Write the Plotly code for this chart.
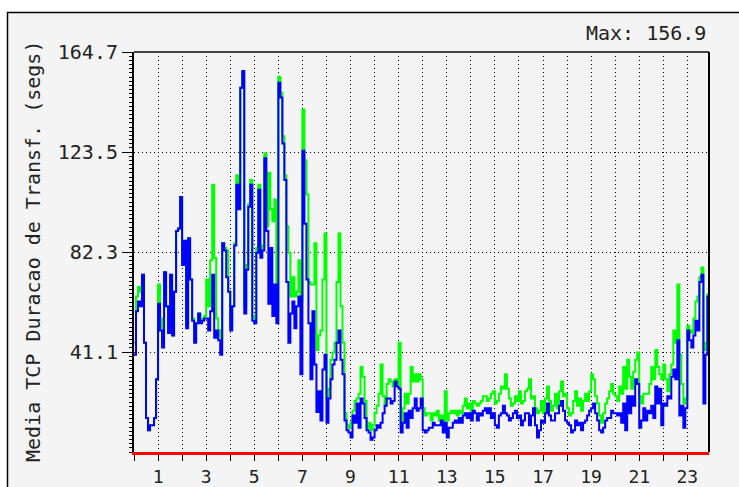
import plotly.graph_objects as go

# 5-minute samples over 24 hours (288 per series)
blue_vals = [
    # 00h-04h
    40, 58, 62, 60, 73, 45, 14, 9, 11, 11, 14, 30,
    61, 50, 43, 74, 60, 49, 73, 48, 66, 91, 92, 105,
    77, 87, 51, 88, 71, 54, 45, 53, 57, 53, 54, 55,
    55, 50, 58, 73, 47, 50, 46, 40, 86, 83, 72, 66,
    # 04h-08h
    50, 60, 85, 110, 100, 150, 156.9, 57, 75, 101, 110, 54,
    53, 82, 108, 80, 83, 121, 91, 61, 84, 56, 69, 53,
    152, 146, 127, 112, 70, 45, 57, 62, 51, 60, 64, 32,
    124, 94, 71, 53, 30, 58, 36, 16.5, 25, 13, 34, 40,
    # 08h-12h
    12, 22, 30, 36, 38, 45, 50, 38, 32, 13, 9, 8,
    6, 15, 12, 20, 10, 22, 20, 14, 9, 8, 5, 6,
    9, 11, 10, 12, 16, 19, 22, 22, 20, 21, 29, 27,
    26, 8, 12, 16, 10, 17, 14, 18, 22, 17, 18, 22,
    # 12h-16h
    9, 8, 9, 10, 10, 12, 11, 11, 11, 13, 8, 12,
    6, 10, 10, 12, 13, 12, 14, 12, 15, 16, 14, 16,
    13, 17, 16, 13, 16, 15, 17, 18, 16, 18, 14, 16,
    11, 10, 15, 16, 19, 16, 15, 13, 14, 16, 17, 14,
    # 16h-20h
    15, 11, 13, 16, 16, 11, 15, 18, 11, 6, 9, 13,
    12, 16, 20, 15, 13, 13, 16, 16, 19, 21, 17, 13,
    12, 11, 8, 9, 13, 11, 12, 9, 12, 13, 15, 17,
    18, 20, 16, 13, 9, 8, 10, 13, 14, 14, 17, 16,
    # 20h-24h
    16, 15, 16, 12, 20, 9, 23, 16, 23, 19, 30, 28,
    10, 13, 18, 13, 17, 16, 19, 14, 27, 20, 26, 11,
    20, 19, 23, 22, 31, 34, 30, 46, 15, 19, 10, 18,
    50, 46, 43, 48, 54, 50, 70, 73, 20, 40, 64, 63,
]
green_vals = [
    # 00h-04h
    45, 64, 68, 66, 73, 45, 14, 9, 11, 11, 14, 30,
    69, 55, 45, 74, 60, 50, 73, 48, 66, 91, 92, 105,
    77, 87, 52, 88, 71, 55, 46, 53, 57, 54, 55, 56,
    71, 60, 79, 110, 80, 55, 50, 47, 86, 84, 83, 66,
    # 04h-08h
    52, 60, 86, 114, 102, 150, 156, 60, 77, 102, 112, 56,
    55, 84, 110, 82, 85, 123, 93, 115, 100, 95, 104, 58,
    154.5, 148, 130, 114, 93, 82, 64, 72, 64, 66, 79, 62,
    141, 120, 106, 70, 69, 69, 86, 42, 48, 50, 71, 90,
    # 08h-12h
    22, 26, 38, 41, 45, 70, 90, 60, 45, 16, 11, 10,
    12, 17, 21, 22, 24, 35, 31, 21, 10, 12, 9, 11,
    16, 19, 24, 36, 23, 19, 28, 30, 29, 27, 30, 28,
    45, 11, 18, 24, 20, 24, 35, 29, 32, 29, 32, 30,
    # 12h-16h
    18, 15, 16, 16, 13, 16, 15, 17, 13, 15, 11, 25,
    13, 16, 17, 16, 17, 15, 17, 16, 19, 22, 18, 20,
    16, 21, 20, 19, 20, 21, 23, 23, 21, 22, 24, 25,
    20, 21, 24, 27, 26, 32, 26, 22, 19, 20, 23, 21,
    # 16h-20h
    25, 20, 21, 25, 26, 30, 22, 23, 18, 16, 17, 21,
    16, 22, 27, 21, 17, 19, 24, 18, 25, 29, 23, 24,
    18, 15, 16, 21, 25, 19, 22, 17, 21, 24, 21, 25,
    32, 30, 23, 20, 15, 12, 16, 20, 22, 25, 28, 24,
    # 20h-24h
    23, 21, 27, 24, 35, 26, 38, 31, 26, 33, 38, 41,
    23, 20, 24, 24, 24, 28, 35, 30, 42, 35, 32, 30,
    36, 30, 25, 32, 36, 50, 45, 69, 40, 28, 20, 22,
    52, 50, 49, 55, 62, 64, 72, 76, 42, 45, 65, 64,
]
hours = [i / 12 for i in range(len(blue_vals))]

y_tick_vals = [41.175, 82.35, 123.525, 164.7]
y_tick_text = ["41.1", "82.3", "123.5", "164.7"]
x_tick_vals = list(range(0, 24))
x_tick_text = [str(h) if h % 2 == 1 else "" for h in x_tick_vals]
y_title = "Media TCP Duracao de Transf. (segs)"
max_label = "Max: 156.9"

MONO = "DejaVu Sans Mono"
BG = "#f4f4f4"
TXT = "#222"

fig = go.Figure()
fig.add_trace(go.Scatter(x=hours + [24], y=green_vals + [green_vals[-1]], mode="lines",
                         line=dict(color="#00ff00", width=2, shape="hv"), hoverinfo="skip"))
fig.add_trace(go.Scatter(x=hours + [24], y=blue_vals + [blue_vals[-1]], mode="lines",
                         line=dict(color="#0000ff", width=2, shape="hv"), hoverinfo="skip"))

L, R, T, B = 134, 30, 52, 35
W, H = 739, 487
pw, ph = W - L - R, H - T - B

fig.update_layout(
    width=W, height=H,
    margin=dict(l=L, r=R, t=T, b=B, pad=0, autoexpand=False),
    paper_bgcolor="white", plot_bgcolor=BG,
    showlegend=False,
    font=dict(family=MONO, size=20, color=TXT),
    xaxis=dict(range=[0, 23.9], tickmode="array", tickvals=x_tick_vals, ticktext=x_tick_text,
               ticks="outside", ticklen=6, tickcolor="black", tickwidth=1,
               showline=True, linecolor="#ff0000", linewidth=3,
               showgrid=True, gridcolor="black", gridwidth=1, griddash="1px,3px",
               zeroline=False, ticklabelstandoff=0, automargin=False,
               tickfont=dict(family=MONO, size=18, color=TXT)),
    yaxis=dict(range=[0, 164.7], tickmode="array", tickvals=y_tick_vals, ticktext=y_tick_text,
               ticks="outside", ticklen=10, tickcolor="black", tickwidth=1,
               showline=True, linecolor="black", linewidth=2,
               showgrid=True, gridcolor="black", gridwidth=1, griddash="1px,3px",
               zeroline=False, automargin=False,
               minor=dict(ticks="outside", ticklen=3, tickcolor="black", dtick=1.7156, tick0=0,
                          showgrid=False),
               tickfont=dict(family=MONO, size=20, color=TXT)),
)

# outer frame / canvas
fig.add_shape(type="rect", xref="paper", yref="paper",
              x0=(7.5 - L) / pw, x1=1.2, y0=-0.3, y1=(H - B - 12.5) / ph,
              line=dict(color="black", width=1.5), fillcolor=BG, layer="below")
# top and right borders of plot area
fig.add_shape(type="line", xref="paper", yref="paper", x0=0, x1=1, y0=1, y1=1,
              line=dict(color="#444", width=2), layer="above")
fig.add_shape(type="line", xref="paper", yref="paper", x0=1, x1=1, y0=0, y1=1,
              line=dict(color="black", width=2), layer="above")

fig.add_annotation(text=max_label, xref="paper", yref="paper",
                   x=(708 - L) / pw, y=(H - B - 33) / ph, xanchor="right", yanchor="middle",
                   showarrow=False, font=dict(family=MONO, size=20, color=TXT))
fig.add_annotation(text=y_title, xref="paper", yref="paper",
                   x=(33 - L) / pw, y=0.5, xanchor="center", yanchor="middle", textangle=-90,
                   showarrow=False, font=dict(family=MONO, size=20, color=TXT))

fig.write_html("out.html")
